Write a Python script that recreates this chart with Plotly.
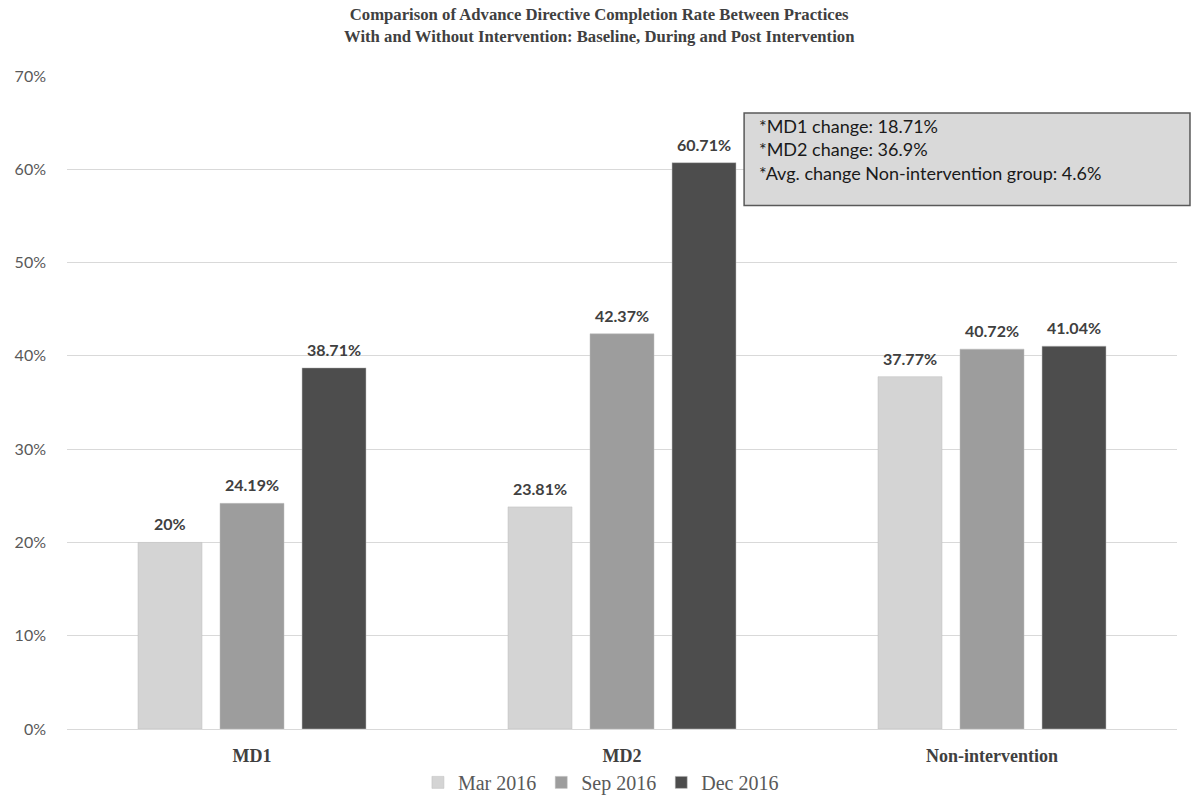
import plotly.graph_objects as go

categories = ["MD1", "MD2", "Non-intervention"]
series_names = ["Mar 2016", "Sep 2016", "Dec 2016"]
mar_2016 = [20, 23.81, 37.77]
sep_2016 = [24.19, 42.37, 40.72]
dec_2016 = [38.71, 60.71, 41.04]
colors = ["#d4d4d4", "#9d9d9d", "#4d4d4d"]
note_lines = ["*MD1 change: 18.71%", "*MD2 change: 36.9%",
              "*Avg. change Non-intervention group: 4.6%"]
title_lines = ["Comparison of Advance Directive Completion Rate Between Practices",
               "With and Without Intervention: Baseline, During and Post Intervention"]

BARGAP = 0.335
GROUPS = 3
slot = (1 - BARGAP) / GROUPS

fig = go.Figure()
all_series = [mar_2016, sep_2016, dec_2016]
for k, (name, vals, col) in enumerate(zip(series_names, all_series, colors)):
    fig.add_trace(go.Bar(
        x=categories, y=vals, name=name,
        marker=dict(color=col, line=dict(width=0.5, color="#bfbfbf")),
        cliponaxis=False,
    ))
    for i, v in enumerate(vals):
        fig.add_annotation(x=i + (k - 1) * slot, y=v, xref="x", yref="y",
                           text=f"{v:g}%", showarrow=False,
                           xanchor="center", yanchor="bottom", yshift=7,
                           font=dict(family="Lato", size=16, color="#404040", weight="bold"))

fig.update_layout(
    width=1192, height=809,
    margin=dict(l=67, r=15, t=76, b=80, autoexpand=False),
    paper_bgcolor="white", plot_bgcolor="white",
    barmode="group", bargap=BARGAP, bargroupgap=0.22,
    legend=dict(orientation="h", x=0.481, xanchor="center",
                yref="container", y=0.057, yanchor="top",
                font=dict(family="Liberation Serif", size=20, color="#595959"),
                bgcolor="rgba(0,0,0,0)", itemwidth=30, tracegroupgap=0),
    showlegend=True,
)
fig.update_yaxes(range=[0, 70], dtick=10, ticksuffix="%", showgrid=True,
                 gridcolor="#d9d9d9", gridwidth=1, zeroline=False,
                 tickfont=dict(family="Lato", size=16, color="#595959"),
                 ticklabelstandoff=20, showline=False)
fig.update_xaxes(showline=True, linecolor="#d9d9d9", linewidth=1,
                 tickfont=dict(family="Liberation Serif", size=18, color="#404040", weight="bold"),
                 ticklabelstandoff=10)

# title
fig.add_annotation(xref="paper", yref="paper", x=0.4793, y=1.078, xanchor="center", yanchor="middle",
                   text="<br>".join(title_lines), align="center", showarrow=False,
                   font=dict(family="Liberation Serif", size=16.7, color="#404040", weight="bold"))

# note box
fig.add_shape(type="rect", xref="paper", yref="paper",
              x0=0.61, x1=1.0117, y0=0.8015, y1=0.9435,
              fillcolor="#d9d9d9", line=dict(color="#595959", width=1.5), layer="above")
fig.add_annotation(xref="paper", yref="paper", x=0.6216, y=0.943, xanchor="left", yanchor="top",
                   text="<br>".join(note_lines), align="left", showarrow=False,
                   font=dict(family="Lato", size=18, color="#1a1a1a"))

fig.write_html("out.html")
